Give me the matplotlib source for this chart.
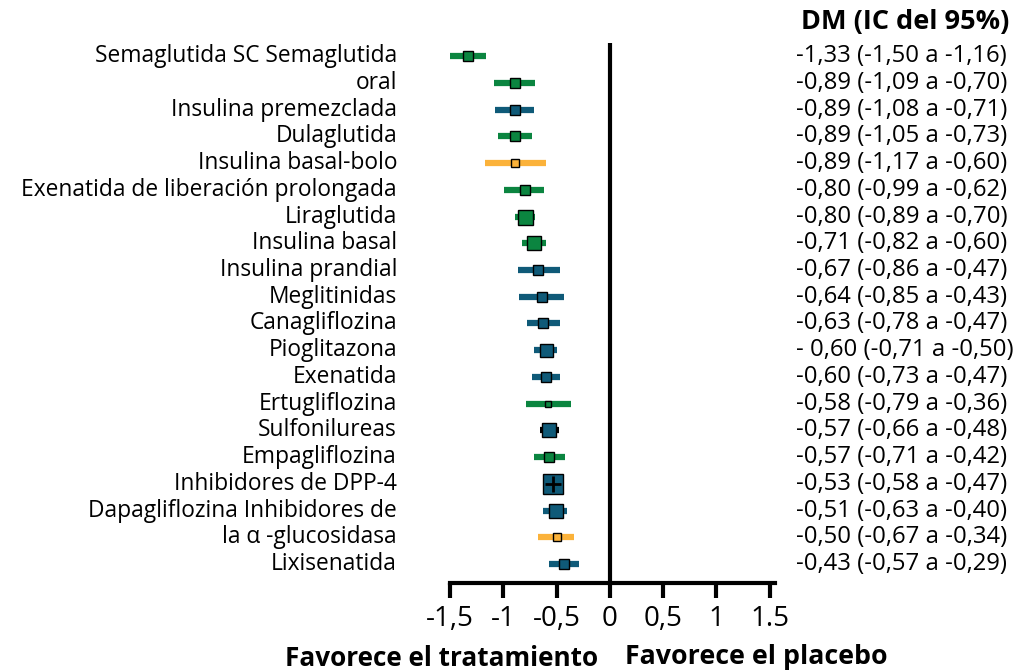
import matplotlib
matplotlib.use("Agg")
import matplotlib.pyplot as plt

plt.rcParams['font.family'] = ['Open Sans', 'DejaVu Sans']

etiquetas = [
    'Semaglutida SC Semaglutida', 'oral', 'Insulina premezclada', 'Dulaglutida',
    'Insulina basal-bolo', 'Exenatida de liberación prolongada', 'Liraglutida',
    'Insulina basal', 'Insulina prandial', 'Meglitinidas', 'Canagliflozina',
    'Pioglitazona', 'Exenatida', 'Ertugliflozina', 'Sulfonilureas',
    'Empagliflozina', 'Inhibidores de DPP-4', 'Dapagliflozina Inhibidores de',
    'la α -glucosidasa', 'Lixisenatida',
]
dm = [-1.33, -0.89, -0.89, -0.89, -0.89, -0.80, -0.80, -0.71, -0.67, -0.64,
      -0.63, -0.60, -0.60, -0.58, -0.57, -0.57, -0.53, -0.51, -0.50, -0.43]
ic_inf = [-1.50, -1.09, -1.08, -1.05, -1.17, -0.99, -0.89, -0.82, -0.86, -0.85,
          -0.78, -0.71, -0.73, -0.79, -0.66, -0.71, -0.58, -0.63, -0.67, -0.57]
ic_sup = [-1.16, -0.70, -0.71, -0.73, -0.60, -0.62, -0.70, -0.60, -0.47, -0.43,
          -0.47, -0.50, -0.47, -0.36, -0.48, -0.42, -0.47, -0.40, -0.34, -0.29]
textos = [
    '-1,33 (-1,50 a -1,16)', '-0,89 (-1,09 a -0,70)', '-0,89 (-1,08 a -0,71)',
    '-0,89 (-1,05 a -0,73)', '-0,89 (-1,17 a -0,60)', '-0,80 (-0,99 a -0,62)',
    '-0,80 (-0,89 a -0,70)', '-0,71 (-0,82 a -0,60)', '-0,67 (-0,86 a -0,47)',
    '-0,64 (-0,85 a -0,43)', '-0,63 (-0,78 a -0,47)', '- 0,60 (-0,71 a -0,50)',
    '-0,60 (-0,73 a -0,47)', '-0,58 (-0,79 a -0,36)', '-0,57 (-0,66 a -0,48)',
    '-0,57 (-0,71 a -0,42)', '-0,53 (-0,58 a -0,47)', '-0,51 (-0,63 a -0,40)',
    '-0,50 (-0,67 a -0,34)', '-0,43 (-0,57 a -0,29)',
]
# clase: g = verde, a = azul, n = naranja, k = barra negra, r = referencia
clase = ['g', 'g', 'a', 'g', 'n', 'g', 'g', 'g', 'a', 'a',
         'a', 'a', 'a', 'g', 'k', 'g', 'r', 'a', 'n', 'a']
peso = [10, 10, 10, 10, 8, 10, 15, 14, 10, 10, 10, 13, 10, 6, 14, 10, 20, 14, 8, 10]

ticks = [-1.5, -1, -0.5, 0, 0.5, 1, 1.5]
tick_labels = ['-1,5', '-1', '-0,5', '0', '0,5', '1', '1.5']

verde = '#0b8540'
azul = '#0f5a78'
naranja = '#fbb23a'
col_barra = {'g': verde, 'a': azul, 'n': naranja, 'k': 'black', 'r': 'black'}
col_marca = {'g': verde, 'a': azul, 'n': naranja, 'k': azul, 'r': azul}

fig = plt.figure(figsize=(10.25, 6.72), dpi=100)
ax = fig.add_axes([0.439, 0.1324, 0.312, 0.8036])

for i in range(len(dm)):
    c = clase[i]
    ax.plot([ic_inf[i], ic_sup[i]], [i, i], color=col_barra[c], lw=4.5,
            solid_capstyle='butt', zorder=2)
    ax.plot(dm[i], i, marker='s', ms=peso[i] * 0.72, mfc=col_marca[c],
            mec='black', mew=1.0, zorder=3)
    if c == 'r':
        ax.plot(dm[i], i, marker='+', ms=peso[i] * 0.55, color='black',
                mew=2.0, zorder=4)

ax.axvline(0, color='black', lw=3, zorder=1)
ax.set_xlim(-1.5, 1.5)
ax.set_ylim(19.71, -0.49)
for s in ['left', 'right', 'top']:
    ax.spines[s].set_visible(False)
ax.spines['bottom'].set_linewidth(3)
ax.spines['bottom'].set_bounds(-1.5, 1.55)
ax.set_yticks([])
ax.set_xticks(ticks)
ax.set_xticklabels(tick_labels, fontsize=20)
ax.tick_params(axis='x', length=11, width=3, pad=5)

for i, lab in enumerate(etiquetas):
    ax.annotate(lab, xy=(0, i), xycoords=('figure fraction', 'data'),
                xytext=(397, 0), textcoords=('figure pixels', 'offset points'),
                ha='right', va='center', fontsize=16.4)
    ax.annotate(textos[i], xy=(0, i), xycoords=('figure fraction', 'data'),
                xytext=(796, 0), textcoords=('figure pixels', 'offset points'),
                ha='left', va='center', fontsize=17.2)

fig.text(1009 / 1025, 1 - 22 / 672, 'DM (IC del 95%)', ha='right', va='center',
         fontsize=19.5, fontweight='bold')
fig.text(441.5 / 1025, 1 - 658 / 672, 'Favorece el tratamiento', ha='center',
         va='center', fontsize=18.8, fontweight='bold')
fig.text(756.5 / 1025, 1 - 657 / 672, 'Favorece el placebo', ha='center',
         va='center', fontsize=19.3, fontweight='bold')

fig.savefig('out.png', dpi=100)
